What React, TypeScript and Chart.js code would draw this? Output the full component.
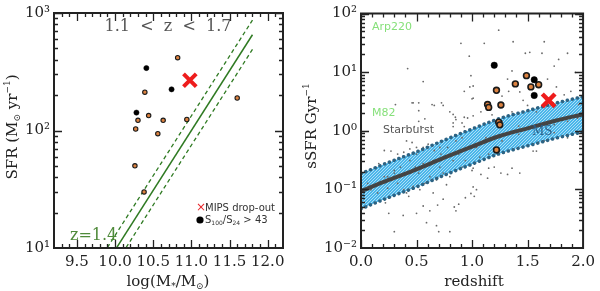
import React, { useEffect, useRef } from 'react';
import { Chart, registerables } from 'chart.js';
Chart.register(...registerables);

// ---------- tick labels ----------
const MASS_TICKS = [9.5, 10.0, 10.5, 11.0, 11.5, 12.0];
const SFR_TICKS = [10, 100, 1000];
const SFR_TICK_LABELS = ['10¹', '10²', '10³'];
const Z_TICKS = [0, 0.5, 1.0, 1.5, 2.0];
const SSFR_TICKS = [0.01, 0.1, 1, 10, 100];
const SSFR_TICK_LABELS = ['10⁻²', '10⁻¹', '10⁰', '10¹', '10²'];

// ---------- left panel: SFR vs stellar mass ----------
const OR_MASS = [10.82, 10.39, 11.60, 10.44, 10.30, 10.63, 10.94, 10.27, 10.56, 10.26, 10.38];
const OR_SFR = [417, 212, 189, 134, 122, 122, 124, 103, 94, 50, 30];
const BK_MASS = [10.41, 10.74, 10.28];
const BK_SFR = [340, 224, 142];
const XD_MASS = [10.98];
const XD_SFR = [268];
const MS14_MASS = [9.8, 11.8];
const MS14_SFR = [6.0, 653];
const MS14_SFR_HI = [8.0, 870];
const MS14_SFR_LO = [4.5, 490];

// ---------- right panel: sSFR vs redshift ----------
const OZ = [1.49, 1.39, 1.53, 1.60, 1.22, 1.14, 1.15, 1.26, 1.24, 1.25, 1.22];
const OZ_SSFR = [8.7, 6.3, 5.6, 6.1, 4.9, 2.8, 2.5, 2.75, 1.4, 1.26, 0.47];
const BZ = [1.20, 1.56, 1.56];
const BZ_SSFR = [13.1, 7.4, 4.0];
const XZ = [1.69];
const XZ_SSFR = [3.3];
const MS_Z = [0, 0.25, 0.5, 0.75, 1.0, 1.25, 1.5, 1.75, 2.0];
const MS_SSFR = [0.093, 0.145, 0.219, 0.347, 0.537, 0.813, 1.10, 1.48, 1.91];
const BAND_DEX = 0.3;
const GAL_Z = [
  0.90, 0.975, 0.42, 0.56, 0.93, 0.98, 1.00, 0.47, 0.52, 0.66, 0.74, 0.52, 0.80, 0.83, 0.85, 0.93, 0.575, 0.52, 0.83, 0.91,
  0.96, 0.54, 0.48, 0.83, 0.93, 1.24, 1.11, 1.37, 1.65, 1.48, 1.52, 1.63, 1.86, 1.78, 0.99, 1.36, 1.74, 1.68, 1.93, 1.01,
  1.32, 1.33, 1.43, 1.76, 1.83, 1.89, 1.27, 1.01, 1.46, 1.50, 1.01, 1.08, 1.18, 1.36, 1.27, 1.58, 1.96, 0.41, 0.46, 0.21,
  0.27, 0.33, 0.385, 0.44, 0.50, 0.56, 0.605, 0.66, 0.72, 0.78, 0.855, 0.91, 0.16, 0.24, 0.30, 0.25, 0.30, 0.50, 0.56, 0.59,
  0.68, 0.70, 0.80, 0.855, 0.88, 0.43, 0.65, 0.74, 0.94, 0.22, 1.55, 1.58, 1.01, 1.08, 1.15, 1.20, 1.26, 1.32, 1.36, 1.43,
  1.14, 1.01, 1.04, 1.02, 0.44, 0.49, 0.52, 0.56, 0.65, 0.71, 0.77, 0.83, 0.855, 0.88, 0.385, 0.41, 0.47, 0.33, 0.24, 0.15,
  0.09, 0.06, 0.62, 0.68, 0.74, 0.80, 0.91, 0.94, 0.575, 0.53, 0.77, 0.30, 0.21, 0.355, 0.97, 0.71, 0.50, 1.00, 1.04, 1.125,
  1.27, 1.42, 1.65, 1.74, 1.86, 1.07, 1.15, 1.86, 1.95, 1.74, 1.57, 1.42, 0.855, 0.31, 0.46, 0.64, 0.725, 0.38, 0.69, 0.62,
  0.84, 0.99,
];
const GAL_SSFR = [
  31, 18.7, 11.5, 6.9, 4.7, 5.6, 3.5, 3.0, 3.0, 2.7, 2.7, 2.2, 2.1, 1.9, 1.7, 1.7, 1.6, 1.45, 1.36, 1.36,
  1.65, 1.18, 1.17, 1.18, 1.18, 52, 31, 33, 33, 21, 21.8, 21, 21, 16.5, 8.7, 10.5, 12.7, 7.6, 9.9, 5.8,
  7.6, 4.7, 4.6, 5.6, 4.1, 4.7, 3.9, 3.6, 3.3, 2.7, 1.8, 2.1, 1.87, 2.1, 1.45, 2.1, 2.8, 0.67, 0.63, 0.46,
  0.45, 0.40, 0.43, 0.49, 0.40, 0.52, 0.59, 0.46, 0.40, 0.52, 0.67, 0.76, 0.275, 0.165, 0.21, 0.039, 0.019, 0.039, 0.052, 0.027,
  0.024, 0.019, 0.019, 0.043, 0.056, 0.076, 0.087, 0.068, 0.072, 0.059, 0.45, 0.45, 0.23, 0.18, 0.23, 0.24, 0.19, 0.18, 0.23, 0.19,
  0.155, 0.11, 0.099, 0.076, 0.31, 0.24, 0.19, 0.275, 0.31, 0.24, 0.355, 0.31, 0.21, 0.40, 0.099, 0.087, 0.112, 0.127, 0.105, 0.087,
  0.099, 0.127, 0.165, 0.145, 0.19, 0.165, 0.24, 0.31, 0.127, 0.099, 0.12, 0.19, 0.165, 0.24, 0.52, 0.52, 0.52, 0.21, 0.52, 0.76,
  0.67, 0.87, 0.67, 0.93, 0.76, 0.355, 0.40, 1.45, 1.65, 1.27, 1.2, 1.2, 1.55, 2.8, 3.0, 2.8, 3.0, 0.036, 0.054, 0.043,
  0.05, 0.085,
];

const SERIF = '"DejaVu Serif"';
const SANS = '"DejaVu Sans"';
const AXIS_COLOR = '#222';
const ORANGE = '#dc8240';

type Seg = { t: string; s?: 'sub' | 'sup' };

function rich(ctx: CanvasRenderingContext2D, segs: Seg[], x: number, y: number, size: number, family: string, color: string, align: 'left' | 'center', rot = 0) {
  ctx.save();
  ctx.translate(x, y);
  ctx.rotate(rot);
  const fN = `${size}px ${family}`;
  const fS = `${Math.round(size * 0.62)}px ${family}`;
  let w = 0;
  for (const s of segs) { ctx.font = s.s ? fS : fN; w += ctx.measureText(s.t).width; }
  let cx = align === 'center' ? -w / 2 : 0;
  ctx.fillStyle = color;
  ctx.textBaseline = 'middle';
  ctx.textAlign = 'left';
  for (const s of segs) {
    ctx.font = s.s ? fS : fN;
    const dy = s.s === 'sub' ? size * 0.3 : s.s === 'sup' ? -size * 0.38 : 0;
    ctx.fillText(s.t, cx, dy);
    cx += ctx.measureText(s.t).width;
  }
  ctx.restore();
}

function logMinors(lo: number, hi: number) {
  const out: number[] = [];
  for (let d = lo; d < hi; d++) for (let k = 2; k <= 9; k++) out.push(k * Math.pow(10, d));
  return out;
}
function linMinors(a: number, b: number, step: number) {
  const out: number[] = [];
  for (let v = a; v <= b + 1e-9; v += step) out.push(Math.round(v * 100) / 100);
  return out;
}

function framePlugin(xMaj: number[], xMin: number[], yMaj: number[], yMin: number[]) {
  return {
    id: 'frame',
    afterDatasetsDraw(chart: any) {
      const { ctx, chartArea } = chart;
      const { left, right, top, bottom } = chartArea;
      const xs = chart.scales.x, ys = chart.scales.y;
      ctx.save();
      ctx.strokeStyle = AXIS_COLOR;
      ctx.lineWidth = 1.3;
      ctx.beginPath();
      const tx = (v: number, L: number) => {
        const p = Math.round(xs.getPixelForValue(v)) + 0.5;
        if (p < left || p > right) return;
        ctx.moveTo(p, bottom); ctx.lineTo(p, bottom - L);
        ctx.moveTo(p, top); ctx.lineTo(p, top + L);
      };
      const ty = (v: number, L: number) => {
        const p = Math.round(ys.getPixelForValue(v)) + 0.5;
        if (p < top || p > bottom) return;
        ctx.moveTo(left, p); ctx.lineTo(left + L, p);
        ctx.moveTo(right, p); ctx.lineTo(right - L, p);
      };
      xMaj.forEach((v) => tx(v, 8));
      xMin.forEach((v) => tx(v, 4));
      yMaj.forEach((v) => ty(v, 8));
      yMin.forEach((v) => ty(v, 4));
      ctx.stroke();
      ctx.lineWidth = 2;
      ctx.strokeRect(left, top, right - left, bottom - top);
      ctx.restore();
    },
  };
}

function makeHatch(): CanvasPattern | string {
  const c = document.createElement('canvas');
  c.width = 3; c.height = 3;
  const g = c.getContext('2d');
  if (!g) return '#5cc0ee';
  g.fillStyle = '#4ab6ea';
  g.fillRect(0, 0, 3, 3);
  g.fillStyle = 'rgba(255,255,255,0.55)';
  for (let i = 0; i < 3; i++) for (let j = 0; j < 3; j++) if ((i + j) % 3 === 0) g.fillRect(i, j, 1, 1);
  return g.createPattern(c, 'repeat') || '#5cc0ee';
}

const tickFont = { family: SERIF, size: 15 };

function pts(xs: number[], ys: number[]) {
  return xs.map((x, i) => ({ x, y: ys[i] }));
}

export default function App() {
  const leftRef = useRef<HTMLCanvasElement>(null);
  const rightRef = useRef<HTMLCanvasElement>(null);

  useEffect(() => {
    const charts: Chart[] = [];
    if (leftRef.current) {
      const texts = {
        id: 'texts',
        afterDraw(chart: any) {
          const ctx = chart.ctx as CanvasRenderingContext2D;
          rich(ctx, [{ t: '1.1  <  z  <  1.7' }], 168, 27, 16, SERIF, '#555', 'center');
          rich(ctx, [{ t: 'z=1.4' }], 70, 236, 16, SERIF, '#4f8a3a', 'left');
          rich(ctx, [{ t: '×' }], 196, 208, 12, SANS, '#e8262a', 'left');
          rich(ctx, [{ t: 'MIPS drop-out' }], 205, 208, 10, SANS, '#333', 'left');
          ctx.save();
          ctx.fillStyle = '#000';
          ctx.beginPath(); ctx.arc(200, 220, 3.6, 0, Math.PI * 2); ctx.fill();
          ctx.restore();
          rich(ctx, [{ t: 'S' }, { t: '100', s: 'sub' }, { t: '/S' }, { t: '24', s: 'sub' }, { t: ' > 43' }], 205, 220, 10, SANS, '#333', 'left');
          rich(ctx, [{ t: 'SFR (M' }, { t: '⊙', s: 'sub' }, { t: ' yr' }, { t: '−1', s: 'sup' }, { t: ')' }], 13, 127, 15, SERIF, AXIS_COLOR, 'center', -Math.PI / 2);
          rich(ctx, [{ t: 'log(M' }, { t: '*', s: 'sub' }, { t: '/M' }, { t: '⊙', s: 'sub' }, { t: ')' }], 168, 282, 15, SERIF, AXIS_COLOR, 'center');
        },
      };
      charts.push(new Chart(leftRef.current, {
        type: 'scatter',
        data: {
          datasets: [
            { data: pts(XD_MASS, XD_SFR), pointStyle: 'crossRot', pointRadius: 9, borderColor: '#ee1c1c', backgroundColor: '#ee1c1c', pointBorderWidth: 4, order: 0 } as any,
            { data: pts(BK_MASS, BK_SFR), pointRadius: 2.6, backgroundColor: '#000', borderColor: '#000', pointBorderWidth: 0.5, order: 1 },
            { data: pts(OR_MASS, OR_SFR), pointRadius: 2.2, backgroundColor: ORANGE, borderColor: '#1a1a1a', pointBorderWidth: 1.1, order: 1 },
            { type: 'line', data: pts(MS14_MASS, MS14_SFR), borderColor: '#2f7a22', borderWidth: 1.5, pointRadius: 0, fill: false, order: 2 } as any,
            { type: 'line', data: pts(MS14_MASS, MS14_SFR_HI), borderColor: '#2f7a22', borderWidth: 1.3, borderDash: [4, 3], pointRadius: 0, fill: false, order: 2 } as any,
            { type: 'line', data: pts(MS14_MASS, MS14_SFR_LO), borderColor: '#2f7a22', borderWidth: 1.3, borderDash: [4, 3], pointRadius: 0, fill: false, order: 2 } as any,
          ],
        },
        options: {
          responsive: false,
          animation: false,
          layout: { padding: { top: 7, right: 17, left: 0, bottom: 0 } },
          plugins: { legend: { display: false }, tooltip: { enabled: false } },
          scales: {
            x: {
              type: 'linear', min: 9.2, max: 12.2,
              grid: { display: false, drawTicks: false }, border: { display: false },
              ticks: { font: tickFont, color: AXIS_COLOR, padding: 5, maxRotation: 0, autoSkip: false, callback: (v: any) => Number(v).toFixed(1) },
              afterBuildTicks: (ax: any) => { ax.ticks = MASS_TICKS.map((value) => ({ value })); },
              afterFit: (ax: any) => { ax.height = 43; },
            },
            y: {
              type: 'logarithmic', min: 10, max: 1000,
              grid: { display: false, drawTicks: false }, border: { display: false },
              ticks: { font: tickFont, color: AXIS_COLOR, padding: 4, autoSkip: false, callback: (v: any) => { const i = SFR_TICKS.indexOf(Number(v)); return i >= 0 ? SFR_TICK_LABELS[i] : ''; } },
              afterBuildTicks: (ax: any) => { ax.ticks = SFR_TICKS.map((value) => ({ value })); },
              afterFit: (ax: any) => { ax.width = 54; },
            },
          },
        } as any,
        plugins: [framePlugin(MASS_TICKS, linMinors(9.3, 12.1, 0.1), SFR_TICKS, logMinors(1, 3)), texts],
      }));
    }
    if (rightRef.current) {
      const hatch = makeHatch();
      const bandHi = MS_SSFR.map((v) => v * Math.pow(10, BAND_DEX));
      const bandLo = MS_SSFR.map((v) => v / Math.pow(10, BAND_DEX));
      const texts = {
        id: 'texts',
        afterDraw(chart: any) {
          const ctx = chart.ctx as CanvasRenderingContext2D;
          rich(ctx, [{ t: 'Arp220' }], 72, 27, 11, SANS, '#86e07a', 'left');
          rich(ctx, [{ t: 'M82' }], 72, 113, 11, SANS, '#86e07a', 'left');
          rich(ctx, [{ t: 'Starburst' }], 83, 130, 11, SANS, '#555', 'left');
          rich(ctx, [{ t: 'MS' }], 232, 132, 12, SERIF, '#2a5d85', 'left');
          rich(ctx, [{ t: 'sSFR Gyr' }, { t: '−1', s: 'sup' }], 12, 126, 15, SERIF, AXIS_COLOR, 'center', -Math.PI / 2);
          rich(ctx, [{ t: 'redshift' }], 174, 282, 15, SERIF, AXIS_COLOR, 'center');
        },
      };
      const line = { type: 'line', pointRadius: 0, tension: 0.4, cubicInterpolationMode: 'monotone' };
      charts.push(new Chart(rightRef.current, {
        type: 'scatter',
        data: {
          datasets: [
            { data: pts(XZ, XZ_SSFR), pointStyle: 'crossRot', pointRadius: 9, borderColor: '#ee1c1c', backgroundColor: '#ee1c1c', pointBorderWidth: 4.5, order: 0 } as any,
            { data: pts(BZ, BZ_SSFR), pointRadius: 3.2, backgroundColor: '#000', borderColor: '#000', pointBorderWidth: 0.5, order: 1 },
            { data: pts(OZ, OZ_SSFR), pointRadius: 2.9, backgroundColor: ORANGE, borderColor: '#1a1a1a', pointBorderWidth: 1.6, order: 1 },
            { ...line, data: pts(MS_Z, MS_SSFR), borderColor: '#444', borderWidth: 4, fill: false, order: 2 } as any,
            { ...line, data: pts(MS_Z, bandHi), borderColor: '#2d6383', borderWidth: 3.5, borderDash: [0.1, 5], borderCapStyle: 'round', fill: false, order: 3 } as any,
            { ...line, data: pts(MS_Z, bandLo), borderColor: '#2d6383', borderWidth: 3.5, borderDash: [0.1, 5], borderCapStyle: 'round', fill: false, order: 3 } as any,
            { data: pts(GAL_Z, GAL_SSFR), pointRadius: 0.9, backgroundColor: '#6a6a6a', borderColor: '#6a6a6a', pointBorderWidth: 0, order: 4 },
            { ...line, data: pts(MS_Z, bandHi), borderWidth: 0, borderColor: 'rgba(0,0,0,0)', backgroundColor: hatch, fill: '+1', order: 5 } as any,
            { ...line, data: pts(MS_Z, bandLo), borderWidth: 0, borderColor: 'rgba(0,0,0,0)', fill: false, order: 6 } as any,
          ],
        },
        options: {
          responsive: false,
          animation: false,
          layout: { padding: { top: 6, right: 12, left: 0, bottom: 0 } },
          plugins: { legend: { display: false }, tooltip: { enabled: false } },
          scales: {
            x: {
              type: 'linear', min: 0, max: 2,
              grid: { display: false, drawTicks: false }, border: { display: false },
              ticks: { font: tickFont, color: AXIS_COLOR, padding: 5, maxRotation: 0, autoSkip: false, callback: (v: any) => Number(v).toFixed(1) },
              afterBuildTicks: (ax: any) => { ax.ticks = Z_TICKS.map((value) => ({ value })); },
              afterFit: (ax: any) => { ax.height = 43; },
            },
            y: {
              type: 'logarithmic', min: 0.01, max: 100,
              grid: { display: false, drawTicks: false }, border: { display: false },
              ticks: { font: tickFont, color: AXIS_COLOR, padding: 4, autoSkip: false, callback: (v: any) => { const i = SSFR_TICKS.findIndex((t) => Math.abs(t - Number(v)) / t < 1e-6); return i >= 0 ? SSFR_TICK_LABELS[i] : ''; } },
              afterBuildTicks: (ax: any) => { ax.ticks = SSFR_TICKS.map((value) => ({ value })); },
              afterFit: (ax: any) => { ax.width = 61; },
            },
          },
        } as any,
        plugins: [framePlugin(Z_TICKS, linMinors(0.1, 1.9, 0.1), SSFR_TICKS, logMinors(-2, 2)), texts],
      }));
    }
    return () => { charts.forEach((c) => c.destroy()); };
  }, []);

  return (
    <div style={{ position: 'fixed', left: 0, top: 0, width: 600, height: 291, background: '#fff' }}>
      <canvas ref={leftRef} width={300} height={291} style={{ position: 'absolute', left: 0, top: 0, width: 300, height: 291 }} />
      <canvas ref={rightRef} width={300} height={291} style={{ position: 'absolute', left: 300, top: 0, width: 300, height: 291 }} />
    </div>
  );
}
